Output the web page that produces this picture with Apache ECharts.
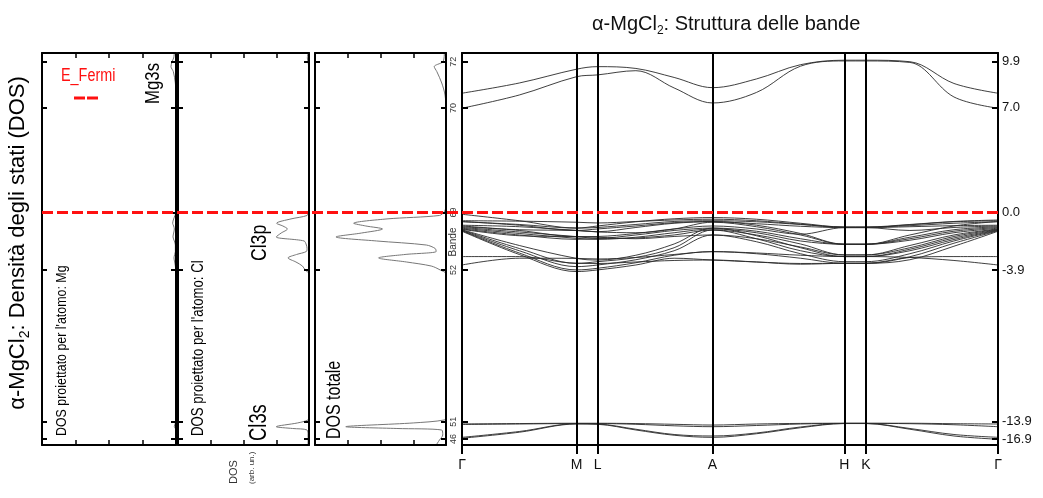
<!DOCTYPE html>
<html>
<head>
<meta charset="utf-8">
<script src="https://cdn.jsdelivr.net/npm/echarts@6/dist/echarts.min.js"></script>
<style>
  html, body { margin: 0; padding: 0; background: #fff; }
  #chart { width: 1043px; height: 498px; }
</style>
</head>
<body>
<div id="chart"></div>
<script>
// energy axis (eV); ticks sit at band edges, labels are the printed values
const energyTicks = [10.05, 6.97, 0, -3.83, -13.95, -15.1];
const energyTickLabels = ['9.9', '7.0', '0.0', '-3.9', '-13.9', '-16.9'];
const bandIndexLabels = ['72', '70', '69', '52', '51', '46'];

// k-path (arb. units along the path)
const kTicks = [0, 114.4, 135.4, 250.2, 382, 403.4, 535.4];
const kLabels = ['Γ', 'M', 'L', 'A', 'H', 'K', 'Γ'];
const kSamples = [0, 57.2, 114.4, 135.4, 173.7, 211.9, 250.2, 294.1, 338.1, 382, 403.4, 447.4, 491.4, 535.4];

// bands 70-72 (Mg3s)
const conductionBands = [
  [6.95, 7.83, 9.05, 9.17, 9.45, 8.3, 7.3, 8.0, 9.75, 10.1, 10.1, 10.0, 7.7, 6.95],
  [7.95, 8.63, 9.55, 9.72, 9.6, 9.0, 8.32, 8.9, 9.85, 10.15, 10.15, 10.05, 8.6, 7.95]
];

// bands 52-69 (Cl3p)
const valenceBands = [
  [-0.12, -0.55, -1.04, -0.9, -0.62, -0.42, -0.34, -0.45, -0.72, -0.97, -0.97, -0.8, -0.6, -0.5],
  [-0.55, -0.58, -0.65, -0.7, -0.6, -0.5, -0.45, -0.55, -0.78, -1.0, -1.0, -0.82, -0.62, -0.55],
  [-0.62, -0.8, -1.04, -1.0, -0.8, -0.6, -0.55, -0.62, -0.8, -0.97, -0.97, -0.88, -0.72, -0.62],
  [-0.85, -0.95, -1.2, -1.28, -1.0, -0.72, -0.62, -0.75, -0.92, -1.01, -1.01, -0.95, -0.88, -0.85],
  [-0.95, -1.15, -1.2, -1.3, -1.35, -1.1, -0.65, -0.95, -1.5, -2.12, -2.12, -1.65, -1.15, -0.95],
  [-1.0, -1.3, -1.61, -1.72, -1.5, -1.2, -1.04, -1.25, -1.75, -2.12, -2.12, -1.75, -1.25, -1.0],
  [-1.05, -1.4, -1.72, -1.79, -1.65, -1.35, -1.1, -1.35, -1.9, -2.12, -2.12, -1.85, -1.35, -1.05],
  [-1.1, -1.5, -1.79, -1.75, -1.7, -1.5, -1.17, -1.5, -2.1, -2.83, -2.83, -2.2, -1.5, -1.1],
  [-1.12, -1.55, -1.61, -1.65, -1.75, -1.6, -1.5, -1.75, -2.3, -2.83, -2.83, -2.35, -1.6, -1.12],
  [-1.15, -2.2, -3.06, -3.17, -2.85, -2.1, -1.04, -1.55, -2.35, -2.94, -2.94, -2.45, -1.7, -1.15],
  [-1.17, -2.4, -3.39, -3.28, -3.0, -2.35, -1.17, -1.75, -2.55, -2.94, -2.94, -2.55, -1.8, -1.17],
  [-1.2, -2.55, -3.61, -3.5, -3.15, -2.55, -1.5, -1.95, -2.75, -3.28, -3.28, -2.75, -1.9, -1.2],
  [-1.22, -2.7, -3.83, -3.72, -3.35, -2.85, -2.61, -2.75, -3.05, -3.39, -3.39, -2.95, -2.05, -1.22],
  [-1.25, -2.8, -3.94, -3.83, -3.5, -3.05, -3.17, -3.3, -3.4, -3.39, -3.39, -3.15, -2.25, -1.25],
  [-3.5, -3.05, -3.06, -3.1, -3.0, -2.8, -2.61, -2.7, -2.85, -2.94, -2.94, -3.0, -3.2, -3.5],
  [-2.94, -2.94, -3.39, -3.4, -3.3, -3.2, -3.17, -3.3, -3.45, -3.39, -3.39, -3.0, -2.94, -2.94],
  [-0.6, -0.85, -1.2, -1.1, -0.9, -0.68, -0.6, -0.85, -1.4, -2.12, -2.12, -1.5, -0.9, -0.6],
  [-0.9, -1.2, -1.61, -1.6, -1.4, -1.1, -0.9, -1.1, -1.45, -1.01, -1.01, -1.2, -1.0, -0.9]
];

// bands 46-51 (Cl3s)
const chlorine3sBands = [
  [-14.1, -14.07, -14.05, -14.05, -14.07, -14.12, -14.17, -14.1, -14.06, -14.05, -14.05, -14.05, -14.08, -14.1],
  [-14.13, -14.1, -14.07, -14.07, -14.12, -14.22, -14.28, -14.2, -14.1, -14.06, -14.06, -14.08, -14.15, -14.28],
  [-14.99, -14.6, -14.08, -14.1, -14.45, -14.8, -14.9, -14.7, -14.3, -14.06, -14.06, -14.4, -14.8, -14.99],
  [-15.05, -14.65, -14.1, -14.12, -14.5, -14.85, -14.99, -14.75, -14.35, -14.07, -14.07, -14.45, -14.9, -15.12]
];

// DOS (arb. un.) on a common energy grid
const dosEnergy = [10.63, 10.3, 10.03, 9.72, 9.39, 8.63, 7.83, 6.8, 1.0, 0.4, 0.03, -0.2, -0.43, -0.72, -0.9, -1.1, -1.37, -1.63, -1.9, -2.17, -2.4, -2.6, -2.8, -3.03, -3.3, -3.57, -3.83, -4.1, -13.6, -13.83, -14.03, -14.28, -14.4, -14.5, -14.83, -15.17, -15.5];
const dosMg = [0.05, 0.07, 0.12, 0.15, 0.08, 0.02, 0, 0, 0, 0, 0, 0.03, 0.07, 0.1, 0.07, 0.05, 0.07, 0.09, 0.05, 0.02, 0.02, 0.02, 0.04, 0.06, 0.04, 0.02, 0.01, 0, 0, 0, 0.02, 0.05, 0.02, 0, 0, 0, 0];
const dosCl = [0.03, 0.05, 0.03, 0.01, 0, 0, 0, 0, 0, 0, 0.02, 0.06, 0.55, 0.99, 0.8, 0.66, 0.85, 1.0, 0.15, 0.08, 0.06, 0.08, 0.38, 0.64, 0.4, 0.2, 0.12, 0, 0, 0.03, 0.35, 1.0, 0.5, 0.06, 0.03, 0.03, 0.03];
const dosTotal = [0.05, 0.06, 0.1, 0.36, 0.28, 0.13, 0.03, 0, 0, 0, 0.06, 0.2, 1.8, 2.82, 2.45, 1.94, 2.58, 3.36, 2.12, 0.6, 0.33, 0.3, 1.25, 2.06, 1.21, 0.45, 0.18, 0, 0, 0.05, 1.0, 3.06, 1.5, 0.13, 0.1, 0.2, 0.3];

const fermiLine = [[0, 0], [1, 0]];

const yMin = -15.5, yMax = 10.63;
const FONT = "'Liberation Sans', Arial, sans-serif";
const RED = '#ff1010';
const NARROW_SCALE = 0.8;

const chart = echarts.init(document.getElementById('chart'));

const pick = (ticks, labels) => v => {
  const i = ticks.findIndex(t => Math.abs(t - v) < 1e-6);
  return i < 0 ? '' : labels[i];
};

const grids = [
  { left: 42, top: 53, width: 134, height: 392 },
  { left: 178, top: 53, width: 131, height: 392 },
  { left: 315, top: 53, width: 131, height: 392 },
  { left: 462, top: 53, width: 536, height: 392 },
  { left: 42, top: 53, width: 956, height: 392 }
].map(g => Object.assign(g, { containLabel: false, outerBoundsMode: 'none' }));

const frameLine = { show: true, onZero: false, lineStyle: { color: '#000', width: 2 } };

const xAxes = [];
const yAxes = [];
// three DOS panels
for (let g = 0; g < 3; g++) {
  ['bottom', 'top'].forEach(pos => xAxes.push({
    gridIndex: g, type: 'value', position: pos, min: 0, max: 4, interval: 1, inverse: true, z: 10,
    axisLine: frameLine,
    axisTick: { inside: true, length: 5, lineStyle: { color: '#000', width: 1.5 } },
    axisLabel: { show: false }, splitLine: { show: false }
  }));
  ['left', 'right'].forEach(pos => yAxes.push({
    gridIndex: g, type: 'value', position: pos, min: yMin, max: yMax, z: 10,
    axisLine: frameLine,
    axisTick: { inside: true, length: 5, customValues: energyTicks, lineStyle: { color: '#000', width: 2 } },
    axisLabel: { show: false }, splitLine: { show: false }
  }));
}
// band structure panel
xAxes.push({
  gridIndex: 3, type: 'value', position: 'bottom', min: 0, max: 535.4, z: 10,
  axisLine: frameLine,
  axisTick: { inside: false, length: 9, customValues: kTicks, lineStyle: { color: '#000', width: 2 } },
  axisLabel: {
    customValues: kTicks, formatter: pick(kTicks, kLabels), margin: 13,
    fontFamily: FONT, fontSize: 14, color: '#111'
  },
  splitLine: { show: false }
});
xAxes.push({
  gridIndex: 3, type: 'value', position: 'top', min: 0, max: 535.4, z: 10,
  axisLine: frameLine, axisTick: { show: false }, axisLabel: { show: false }, splitLine: { show: false }
});
yAxes.push({
  gridIndex: 3, type: 'value', position: 'left', min: yMin, max: yMax, z: 10,
  axisLine: frameLine,
  axisTick: { inside: true, length: 6, customValues: energyTicks, lineStyle: { color: '#000', width: 2 } },
  axisLabel: {
    customValues: energyTicks, formatter: pick(energyTicks, bandIndexLabels), rotate: 90, margin: 4,
    fontFamily: FONT, fontSize: 9, color: '#333'
  },
  splitLine: { show: false }
});
yAxes.push({
  gridIndex: 3, type: 'value', position: 'right', min: yMin, max: yMax, z: 10,
  name: 'Energia eV', nameLocation: 'middle', nameRotate: 90, nameGap: 28,
  nameTextStyle: { fontFamily: FONT, fontSize: 16, color: '#111' },
  axisLine: frameLine,
  axisTick: { inside: true, length: 6, customValues: energyTicks, lineStyle: { color: '#000', width: 2 } },
  axisLabel: {
    customValues: energyTicks, formatter: pick(energyTicks, energyTickLabels), margin: 4,
    fontFamily: FONT, fontSize: 13, color: '#111'
  },
  splitLine: { show: false }
});
// overlay for the Fermi level across all panels
xAxes.push({ gridIndex: 4, type: 'value', min: 0, max: 1, show: false });
yAxes.push({ gridIndex: 4, type: 'value', min: yMin, max: yMax, show: false });

const dosSeries = [dosMg, dosCl, dosTotal].map((vals, g) => ({
  type: 'line', xAxisIndex: g * 2, yAxisIndex: g * 2,
  data: dosEnergy.map((e, i) => [vals[i], e]),
  smooth: 0.3, symbol: 'none', silent: true,
  lineStyle: { color: '#777', width: 1 }, z: 3
}));

const bandSeries = [...conductionBands, ...valenceBands, ...chlorine3sBands].map(b => ({
  type: 'line', xAxisIndex: 6, yAxisIndex: 6,
  data: kSamples.map((k, i) => [k, b[i]]),
  smooth: 0.35, symbol: 'none', silent: true,
  lineStyle: { color: '#2a2a2a', width: 0.9 }, z: 3
}));
bandSeries[0].markLine = {
  silent: true, symbol: ['none', 'none'], label: { show: false },
  lineStyle: { color: '#000', width: 2, type: 'solid' },
  data: kTicks.slice(1, -1).map(v => ({ xAxis: v }))
};
bandSeries[0].z = 4;

const fermiSeries = {
  name: 'E_Fermi', type: 'line', xAxisIndex: 8, yAxisIndex: 8, data: fermiLine,
  symbol: 'none', silent: true, z: 20,
  lineStyle: { color: RED, width: 3, type: [11, 4] }
};

const subRich = size => ({
  a: { fontFamily: FONT, fontWeight: 'normal', fontSize: size, color: '#111', lineHeight: size + 6 },
  s: { fontFamily: FONT, fontWeight: 'normal', fontSize: Math.round(size * 0.62), color: '#111', lineHeight: size + 6, verticalAlign: 'bottom' }
});

// rotated (bottom-to-top) label, narrowed like the original condensed face
const vtext = (x, y, text, size, extra, scale) => ({
  type: 'text', x, y, rotation: Math.PI / 2, scaleX: scale || NARROW_SCALE, silent: true, z: 30,
  style: Object.assign({
    text, fontFamily: FONT, fontSize: size, fill: '#000',
    align: 'left', verticalAlign: 'middle', textAlign: 'left', textVerticalAlign: 'middle'
  }, extra || {})
});

chart.setOption({
  animation: false,
  backgroundColor: '#fff',
  title: {
    text: '{a|α-MgCl}{s|2}{a|: Struttura delle bande}',
    left: 587, top: 6,
    textStyle: { fontWeight: 'normal', rich: subRich(20) }
  },
  grid: grids,
  xAxis: xAxes,
  yAxis: yAxes,
  series: [...dosSeries, ...bandSeries, fermiSeries],
  graphic: [
    vtext(18, 243, '{a|α-MgCl}{s|2}{a|: Densità degli stati (DOS)}', 22,
      { rich: subRich(22), align: 'center', textAlign: 'center' }, 1),
    vtext(153, 104, 'Mg3s', 21),
    vtext(62, 436, "DOS proiettato per l'atomo: Mg", 15.5),
    vtext(198, 436, "DOS proiettato per l'atomo: Cl", 16.5),
    vtext(260, 261, 'Cl3p', 22),
    vtext(260, 441, 'Cl3s', 23),
    vtext(334, 439, 'DOS totale', 20),
    vtext(453, 242, 'Bande', 10, { fill: '#333', align: 'center', textAlign: 'center' }, 1),
    vtext(234, 484, 'DOS', 11, { fill: '#333' }, 1),
    vtext(252, 484, '(arb. un.)', 8, { fill: '#333' }, 1),
    {
      type: 'text', x: 61, y: 76, scaleX: NARROW_SCALE, silent: true, z: 30,
      style: { text: 'E_Fermi', fontFamily: FONT, fontSize: 18, fill: RED, align: 'left', verticalAlign: 'middle', textAlign: 'left', textVerticalAlign: 'middle' }
    },
    {
      type: 'line', silent: true, z: 30,
      shape: { x1: 74, y1: 98, x2: 98, y2: 98 },
      style: { stroke: RED, lineWidth: 3, lineDash: [11, 2] }
    }
  ]
});
</script>
</body>
</html>
